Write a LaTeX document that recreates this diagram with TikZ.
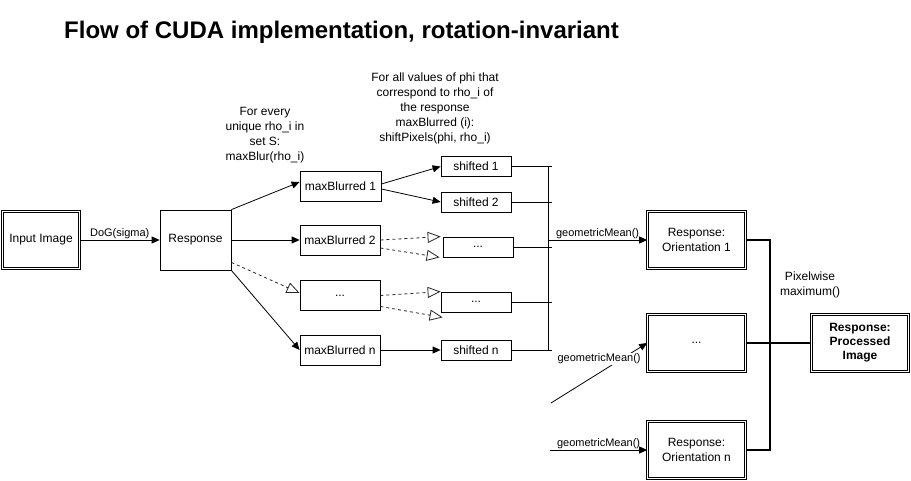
\documentclass[tikz,border=0pt]{standalone}
\usepackage{fontspec}
\setmainfont{Liberation Sans}
\usetikzlibrary{arrows.meta}

\begin{document}
\begin{tikzpicture}[auto,x=1pt,y=-1pt,font=\fontsize{12}{14}\selectfont]
	\tikzstyle{box}=[rectangle,draw=black,line width=0.8pt,inner sep=0pt]
	\tikzstyle{dbox}=[rectangle,draw=black,double,line width=0.6pt,double distance=1.6pt,inner sep=0pt,minimum width=98pt,minimum height=57pt,align=center,font=\fontsize{12}{15}\selectfont]
	%\tikzstyle{dbox}=[rectangle,draw=black,line width=1.5pt,inner sep=0pt]
	\tikzstyle{mbox}=[box,minimum width=80pt,minimum height=30pt]
	\tikzstyle{sbox}=[box,minimum width=70pt,minimum height=20pt]
	\tikzstyle{arc}=[line width=0.8pt,-{Triangle[length=8pt,width=7pt]}]
	\tikzstyle{dasharc}=[line width=0.8pt,black!85,dashed,-{Triangle[open,length=13pt,width=11pt]}]
	\tikzstyle{bus}=[line width=0.8pt]
	\tikzstyle{fat}=[line width=2pt]
	\tikzstyle{weight}=[inner sep=1pt,font=\fontsize{11}{13}\selectfont]
	\tikzstyle{note}=[align=center,font=\fontsize{12}{15}\selectfont]
	\useasboundingbox (0,0) rectangle (911,481);
	\node[anchor=base west,inner sep=0pt,font=\fontsize{24}{28}\selectfont\bfseries] (title) at (64,39) {Flow of CUDA implementation, rotation-invariant};
	% notes above the columns
	\node[note] (note-blur) at (265,135) {For every\\unique rho\_i in\\set S:\\maxBlur(rho\_i)};
	\node[note] (note-shift) at (435,108) {For all values of phi that\\correspond to rho\_i of\\the response\\maxBlurred (i):\\shiftPixels(phi, rho\_i)};
	\node[note] (pix-max) at (810,284.5) {Pixelwise\\maximum()};
	% boxes
	\node[dbox,minimum width=77pt] (in-image) at (41,240) {Input Image};
	\node[box,minimum width=71pt,minimum height=60pt] (response) at (195.5,240) {Response};
	\node[mbox,minimum width=81pt] (mb-1) at (340.5,186) {maxBlurred 1};
	\node[mbox] (mb-2) at (340,240) {maxBlurred 2};
	\node[mbox] (mb-dots) at (340,295.5) {...};
	\node[mbox] (mb-n) at (340,350) {maxBlurred n};
	\node[sbox] (sh-1) at (476,166.5) {shifted 1};
	\node[sbox] (sh-2) at (476,202) {shifted 2};
	\node[sbox] (sh-dots1) at (478,247) {...};
	\node[sbox] (sh-dots2) at (476,302) {...};
	\node[sbox] (sh-n) at (476,350) {shifted n};
	\node[dbox] (or-1) at (696.5,240) {Response:\\Orientation 1};
	\node[dbox] (or-dots) at (696.5,343) {...};
	\node[dbox] (or-n) at (696.5,450) {Response:\\Orientation n};
	\node[dbox,minimum width=97pt,font=\fontsize{12}{14}\selectfont\bfseries] (processed) at (860,343) {Response:\\Processed\\Image};
	% blur and shift
	\draw[arc] (in-image) -- node[weight] {DoG(sigma)} (response);
	\draw[arc] (response.north east) -- ([yshift=4pt]mb-1.west);
	\draw[arc] (response) -- (mb-2);
	\draw[dasharc] ([yshift=8pt]response.south east) -- ([yshift=2.5pt]mb-dots.west);
	\draw[arc] (response.south east) -- (mb-n.west);
	\draw[arc] ([yshift=2pt]mb-1.east) -- (sh-1.west);
	\draw[arc] ([yshift=-3pt]mb-1.east) -- (sh-2.west);
	\draw[dasharc] (mb-2.east) -- ([xshift=-2pt]sh-dots1.north west);
	\draw[dasharc] ([yshift=-8pt]mb-2.east) -- ([xshift=-3pt]sh-dots1.south west);
	\draw[dasharc] (mb-dots.east) -- (sh-dots2.north west);
	\draw[dasharc] ([yshift=-11pt]mb-dots.east) -- ([xshift=2pt,yshift=-5pt]sh-dots2.south west);
	\draw[arc] (mb-n) -- (sh-n);
	% bus into the geometric mean
	\coordinate (bus) at (548,0);
	\coordinate (bus-end) at (552,0);
	\foreach \s in {sh-1,sh-2,sh-dots1,sh-dots2,sh-n}
		\draw[bus] (\s) -- (\s -| bus-end);
	\draw[bus] (sh-1 -| bus) -- (sh-n -| bus);
	\draw[arc] (or-1 -| bus) -- node[weight] {geometricMean()} (or-1);
	\coordinate (gm-2) at (551,403);
	\draw[arc] (gm-2) -- node[weight,pos=0.5,anchor=center,fill=white,yshift=14pt] {geometricMean()} (or-dots.west);
	\coordinate (gm-n) at (550,450);
	\draw[arc] (gm-n) -- node[weight] {geometricMean()} (or-n);
	% pixelwise maximum
	\coordinate (max) at (770,0);
	\draw[fat] (or-1) -- (or-1 -| max) -- (or-n -| max) -- (or-n);
	\draw[fat] (or-dots) -- (processed);
\end{tikzpicture}
\end{document}
